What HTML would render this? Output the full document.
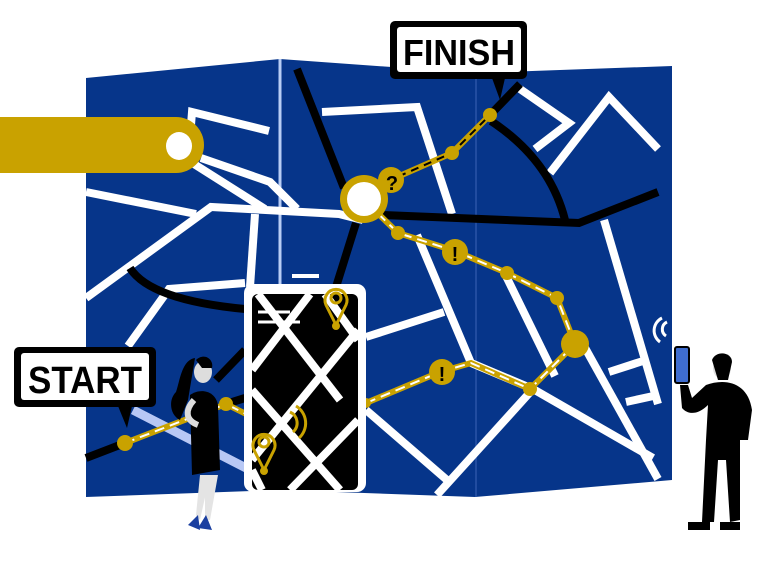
<!DOCTYPE html>
<html><head><meta charset="utf-8"><style>
html,body{margin:0;padding:0;background:#fff;width:766px;height:581px;overflow:hidden}
svg{display:block}
text{font-family:"Liberation Sans",sans-serif;font-weight:bold}
</style></head><body>
<svg width="766" height="581" viewBox="0 0 766 581" xmlns="http://www.w3.org/2000/svg">
<!-- map -->
<polygon points="86,78 280,59 475,73 672,66 672,480 475,497 280,490 86,497" fill="#06358a"/>
<line x1="280" y1="59" x2="280" y2="285" stroke="#b8cdf5" stroke-width="3"/>
<line x1="476" y1="73" x2="476" y2="497" stroke="#2a55a8" stroke-width="1.5"/>
<!-- light band -->
<line x1="133" y1="410" x2="248" y2="469" stroke="#b8c8f5" stroke-width="9"/>
<!-- white roads -->
<g stroke="#fff" stroke-width="8" fill="none" stroke-linejoin="miter">
<polyline points="269,131 192,112 190,138"/>
<polyline points="201,158 270,182 297,209"/>
<polyline points="86,192 196,214"/>
<polyline points="86,298 211,207 339,214 363,220"/>
<polyline points="194,164 265,209"/>
<polyline points="255,214 250,287"/>
<polyline points="128,346 169,289 245,283"/>
<polyline points="322,112 417,107 452,214"/>
<polyline points="417,235 471,363 533,389"/>
<polyline points="366,337 444,312"/>
<polyline points="506,276 555,376"/>
<polyline points="520,89 569,123 535,149"/>
<polyline points="550,173 609,97 658,149"/>
<polyline points="604,220 658,404"/>
<polyline points="609,372 643,361"/>
<polyline points="626,402 658,395"/>
<polyline points="584,346 658,479"/>
<polyline points="533,389 653,458"/>
<polyline points="533,389 437,495"/>
<polyline points="366,410 447,480"/>
<line x1="292" y1="276" x2="319" y2="276" stroke-width="4"/>
</g>
<!-- black roads -->
<g stroke="#000" stroke-width="8" fill="none">
<polyline points="297,69 344,188"/>
<polyline points="356,223 336,287"/>
<polyline points="245,350 216,380"/>
<polyline points="383,215 579,223 658,192"/>
<path d="M491,121 Q550,160 565,220"/>
<line x1="520" y1="84" x2="491" y2="114"/>
<path d="M130,268 Q150,300 245,309"/>
<polyline points="86,458 125,443"/>
<line x1="245" y1="398" x2="226" y2="404"/>
</g>
<!-- gold bar -->
<path d="M0,117 H176 A28,28 0 0 1 176,173 H0 Z" fill="#c9a200"/>
<ellipse cx="179" cy="146" rx="13" ry="14" fill="#fff"/>
<!-- gold path -->
<g fill="none" stroke-linecap="butt">
<polyline points="125,443 226,404 250,416" stroke="#c9a200" stroke-width="6"/>
<polyline points="125,443 226,404 250,416" stroke="#fff" stroke-width="2" stroke-dasharray="10,6"/>
<polyline points="366,403 440,372 471,363 530,389 575,344 557,298 507,273 455,251 398,233 363,199" stroke="#c9a200" stroke-width="6"/>
<polyline points="366,403 440,372 471,363 530,389 575,344 557,298 507,273 455,251 398,233 363,199" stroke="#fff" stroke-width="2" stroke-dasharray="10,6"/>
<polyline points="363,199 388,181 452,153 490,115" stroke="#c9a200" stroke-width="6"/>
<polyline points="363,199 388,181 452,153 490,115" stroke="#000" stroke-width="2" stroke-dasharray="8,6"/>
</g>
<g fill="#c9a200">
<circle cx="125" cy="443" r="8"/><circle cx="226" cy="404" r="7"/>
<circle cx="366" cy="403" r="5"/><circle cx="530" cy="389" r="7"/>
<circle cx="575" cy="344" r="14"/><circle cx="557" cy="298" r="7"/>
<circle cx="507" cy="273" r="7"/><circle cx="398" cy="233" r="7"/>
<circle cx="452" cy="153" r="7"/><circle cx="490" cy="115" r="7"/>
<circle cx="455" cy="252" r="13"/><circle cx="442" cy="372" r="13"/>
<circle cx="391" cy="180" r="13"/>
<circle cx="364" cy="199" r="24"/>
</g>
<circle cx="364" cy="199" r="17" fill="#fff"/>
<text x="455" y="261" font-size="20" text-anchor="middle" fill="#000">!</text>
<text x="442" y="381" font-size="20" text-anchor="middle" fill="#000">!</text>
<text x="392" y="190" font-size="20" text-anchor="middle" fill="#000">?</text>
<!-- phone -->
<rect x="244" y="284" width="122" height="208" rx="9" fill="#fff"/>
<rect x="252" y="294" width="106" height="196" rx="6" fill="#000"/>
<clipPath id="ph"><rect x="252" y="294" width="106" height="196" rx="6"/></clipPath>
<g clip-path="url(#ph)" stroke="#fff" stroke-width="8" fill="none">
<line x1="258" y1="294" x2="340" y2="400"/>
<line x1="310" y1="294" x2="252" y2="370"/>
<line x1="358" y1="330" x2="252" y2="460"/>
<line x1="252" y1="390" x2="340" y2="490"/>
<line x1="358" y1="420" x2="290" y2="490"/>
<line x1="252" y1="470" x2="262" y2="490"/>
<line x1="325" y1="294" x2="358" y2="340"/>
<line x1="258" y1="312" x2="290" y2="312" stroke-width="3"/>
<line x1="258" y1="322" x2="300" y2="322" stroke-width="3"/>
</g>
<g fill="none" stroke="#c9a200" stroke-width="3">
<path d="M336,325 L326,305 A11,11 0 1 1 346,305 Z"/>
<circle cx="336" cy="298" r="5"/>
<path d="M264,470 L254,450 A11,11 0 1 1 274,450 Z"/>
<circle cx="264" cy="442" r="5"/>
<path d="M290,412 A12,12 0 0 1 293,432"/>
<path d="M296,406 A20,20 0 0 1 299,438"/>
</g>
<circle cx="336" cy="326" r="4" fill="#c9a200"/>
<circle cx="264" cy="471" r="4" fill="#c9a200"/>
<!-- labels -->
<g>
<rect x="390" y="21" width="137" height="58" rx="5" fill="#000"/>
<rect x="397" y="27" width="124" height="45" rx="3" fill="#fff"/>
<polygon points="492,78 505,78 500,100" fill="#000"/>
<text x="459" y="65" font-size="36" text-anchor="middle" fill="#000" textLength="112" lengthAdjust="spacingAndGlyphs">FINISH</text>
<rect x="14" y="347" width="142" height="60" rx="5" fill="#000"/>
<rect x="21" y="353" width="128" height="47" rx="3" fill="#fff"/>
<polygon points="118,406 132,406 127,428" fill="#000"/>
<text x="85" y="393" font-size="38" text-anchor="middle" fill="#000" textLength="114" lengthAdjust="spacingAndGlyphs">START</text>
</g>
<!-- woman -->
<g>
<path d="M195,358 C182,360 180,380 176,392 C168,400 170,415 180,420 L188,400 Z" fill="#000"/>
<ellipse cx="203" cy="372" rx="9" ry="11" fill="#ddd"/>
<path d="M196,360 C205,352 214,360 212,368 L202,368 Z" fill="#000"/>
<path d="M190,395 C200,388 215,390 218,405 L220,470 L192,475 Z" fill="#000"/>
<path d="M194,400 C185,410 185,420 198,425" stroke="#ddd" stroke-width="6" fill="none"/>
<path d="M200,475 L196,515 L200,520 L210,475 Z M205,475 L205,520 L210,520 L218,475 Z" fill="#e4e4e4"/>
<path d="M188,525 L198,515 L200,530 Z M198,528 L206,515 L212,530 Z" fill="#1b3fa0"/>
</g>
<!-- man -->
<g>
<path d="M662,318 A14,14 0 0 0 660,342 M667,322 A8,8 0 0 0 666,336" stroke="#fff" stroke-width="3" fill="none"/>
<ellipse cx="722" cy="368" rx="9" ry="11" fill="#ddd"/>
<path d="M712,360 C716,350 732,352 732,362 L728,380 L718,380 Z" fill="#000"/>
<rect x="675" y="347" width="14" height="36" rx="2" fill="#3f6dd0" stroke="#000" stroke-width="2"/>
<path d="M706,385 C725,378 748,382 752,410 L748,440 L740,440 L740,520 L730,522 L726,460 L718,460 L714,522 L702,522 L706,440 L708,405 C698,415 688,415 682,408 L680,385 L688,385 L692,398 Z" fill="#000"/>
<rect x="688" y="522" width="22" height="8" fill="#000"/>
<rect x="720" y="522" width="20" height="8" fill="#000"/>
</g>
</svg>
</body></html>
